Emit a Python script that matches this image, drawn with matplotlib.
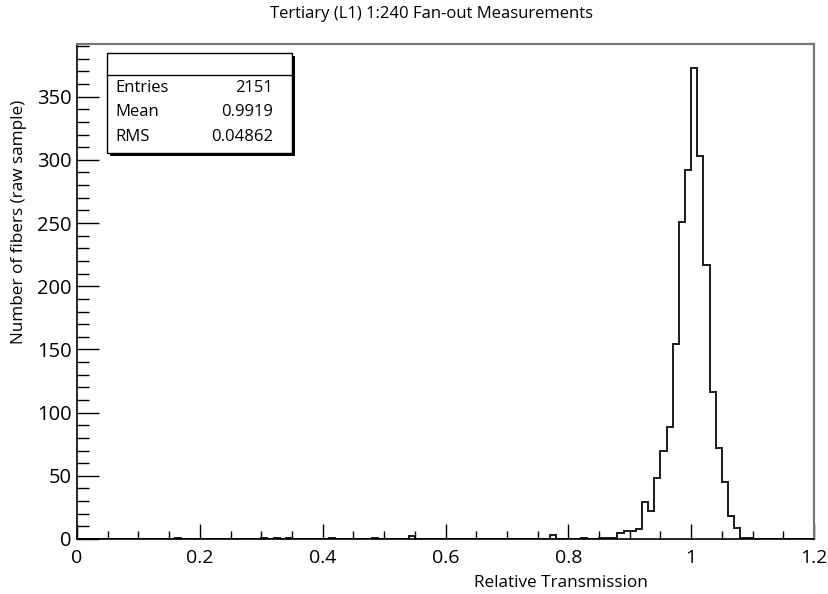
import numpy as np
import matplotlib.pyplot as plt
from matplotlib.patches import Rectangle
from matplotlib.ticker import MultipleLocator

plt.rcParams['font.family'] = ['Open Sans', 'DejaVu Sans']

# histogram contents: lower edge of each filled bin (width 0.01) and its count
bin_lows = [0.16, 0.30, 0.32, 0.34, 0.41, 0.48, 0.54, 0.77, 0.82,
            0.85, 0.86, 0.87, 0.88, 0.89, 0.90, 0.91, 0.92, 0.93, 0.94,
            0.95, 0.96, 0.97, 0.98, 0.99, 1.00, 1.01, 1.02, 1.03, 1.04,
            1.05, 1.06, 1.07, 1.08, 1.09]
bin_counts = [1, 1, 1, 1, 1, 1, 2, 3, 1,
              1, 1, 1, 5, 6, 6, 8, 29, 22, 48,
              70, 89, 154, 251, 292, 373, 303, 217, 116, 72,
              45, 18, 9, 1, 1]

stats_names = ['Entries', 'Mean', 'RMS']
stats_values = ['2151', '0.9919', '0.04862']

nbins, xlo, xhi = 120, 0.0, 1.2
edges = np.linspace(xlo, xhi, nbins + 1)
counts = np.zeros(nbins)
for lo, c in zip(bin_lows, bin_counts):
    counts[int(round((lo - xlo) / 0.01))] = c

fig = plt.figure(figsize=(8.29, 5.94), dpi=100)
ax = fig.add_axes([77 / 829, 1 - 539 / 594, 737 / 829, 495 / 594])

ax.stairs(counts, edges, color='#1a1a1a', lw=1.4)
ax.set_xlim(xlo, xhi)
ax.set_ylim(0, counts.max() * 1.05)

ax.xaxis.set_major_locator(MultipleLocator(0.2))
ax.xaxis.set_minor_locator(MultipleLocator(0.05))
ax.yaxis.set_major_locator(MultipleLocator(50))
ax.yaxis.set_minor_locator(MultipleLocator(10))
ax.xaxis.set_major_formatter(plt.FuncFormatter(lambda v, p: f'{v:g}'))

ax.tick_params(axis='x', which='major', direction='in', length=11, width=1, labelsize=14, pad=7)
ax.tick_params(axis='x', which='minor', direction='in', length=5.5, width=1)
ax.tick_params(axis='y', which='major', direction='in', length=16, width=1, labelsize=14.5, pad=4)
ax.tick_params(axis='y', which='minor', direction='in', length=8.5, width=1)

for s in ['left', 'bottom']:
    ax.spines[s].set_color('black')
    ax.spines[s].set_linewidth(1.2)
for s in ['top', 'right']:
    ax.spines[s].set_color('#777777')
    ax.spines[s].set_linewidth(1.6)

ax.set_xlabel('Relative Transmission', fontsize=12.3)
ax.xaxis.set_label_coords(0.657, -0.072)
ax.set_ylabel('Number of fibers (raw sample)', fontsize=12.3)
ax.yaxis.set_label_coords(-0.068, 0.64)

fig.text(0.52, 1 - 14 / 594, 'Tertiary (L1) 1:240 Fan-out Measurements',
         ha='center', va='center', fontsize=12)

# statistics box with drop shadow
bx0, by0, bw, bh = 107 / 829, 1 - 153 / 594, 185 / 829, 100 / 594
fig.patches.append(Rectangle((bx0 + 3 / 829, by0 - 3 / 594), bw, bh, transform=fig.transFigure,
                             facecolor='black', edgecolor='none', zorder=5))
fig.patches.append(Rectangle((bx0, by0), bw, bh, transform=fig.transFigure,
                             facecolor='white', edgecolor='black', lw=1, zorder=6))
fig.lines.append(plt.Line2D([bx0, bx0 + bw], [1 - 75 / 594] * 2, transform=fig.transFigure,
                            color='black', lw=1, zorder=7))
row_y = [88, 112, 137]
for name, val, ry in zip(stats_names, stats_values, row_y):
    fig.text(115 / 829, 1 - ry / 594, name, ha='left', va='center', fontsize=12, zorder=8)
    fig.text(273 / 829, 1 - ry / 594, val, ha='right', va='center', fontsize=12, zorder=8)

fig.savefig('out.png', dpi=100)
